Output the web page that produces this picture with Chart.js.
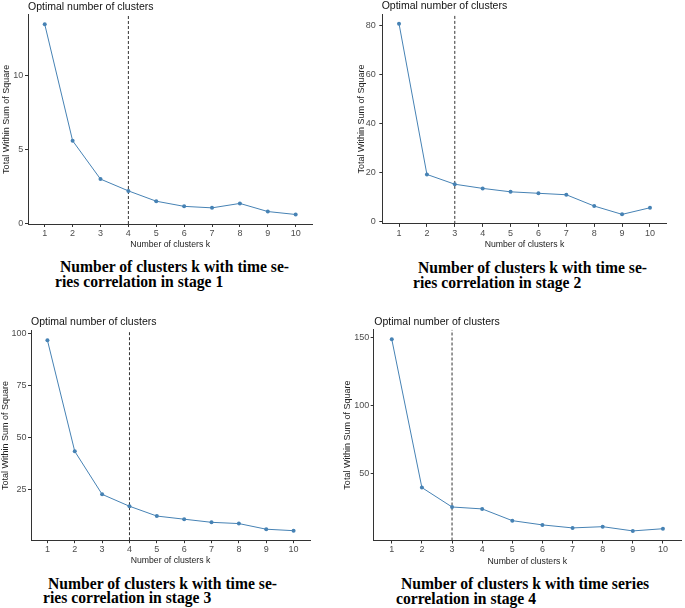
<!DOCTYPE html>
<html>
<head>
<meta charset="utf-8">
<script src="https://cdn.jsdelivr.net/npm/chart.js@4/dist/chart.umd.min.js"></script>
<style>
  body { margin: 0; background: #fff; width: 685px; height: 608px; position: relative; overflow: hidden; }
  canvas { position: absolute; }
  .title { position: absolute; font-family: 'Liberation Sans', Arial, sans-serif; font-size: 10.5px; line-height: 12px; color: #111; white-space: nowrap; }
  .cap { position: absolute; font-family: 'Liberation Serif', 'Times New Roman', serif; font-weight: bold; font-size: 17px; line-height: 14.5px; color: #000; white-space: nowrap; transform: scaleX(0.92); transform-origin: left center; }
</style>
</head>
<body>
<canvas id="c1" width="340" height="255" style="left:0;top:0"></canvas>
<canvas id="c2" width="345" height="255" style="left:340px;top:0"></canvas>
<canvas id="c3" width="340" height="270" style="left:0;top:300px"></canvas>
<canvas id="c4" width="345" height="270" style="left:340px;top:300px"></canvas>

<div class="title" style="left:28px;top:0px">Optimal number of clusters</div>
<div class="title" style="left:381.7px;top:-1px">Optimal number of clusters</div>
<div class="title" style="left:31px;top:314.7px">Optimal number of clusters</div>
<div class="title" style="left:374.3px;top:314.7px">Optimal number of clusters</div>

<div class="cap" style="left:60px;top:260px">Number of clusters k with time se-</div>
<div class="cap" style="left:55px;top:274.5px">ries correlation in stage 1</div>
<div class="cap" style="left:417.7px;top:261px">Number of clusters k with time se-</div>
<div class="cap" style="left:412.7px;top:275.5px">ries correlation in stage 2</div>
<div class="cap" style="left:47.7px;top:576.5px">Number of clusters k with time se-</div>
<div class="cap" style="left:42.7px;top:591px">ries correlation in stage 3</div>
<div class="cap" style="left:401px;top:576.5px">Number of clusters k with time series</div>
<div class="cap" style="left:396px;top:591.5px">correlation in stage 4</div>

<script>
// number of clusters k
const ks = [1, 2, 3, 4, 5, 6, 7, 8, 9, 10];

// total within sum of square, one list per stage
const wss1 = [13.5, 5.6, 3.0, 2.2, 1.5, 1.15, 1.05, 1.35, 0.8, 0.6];
const wss2 = [80.8, 19.3, 15.3, 13.6, 12.2, 11.6, 11.0, 6.4, 3.0, 5.7];
const wss3 = [96.7, 43.5, 22.9, 17.2, 12.5, 11.0, 9.5, 8.9, 6.2, 5.5];
const wss4 = [148.5, 40.0, 25.8, 24.4, 15.8, 12.7, 10.5, 11.4, 8.3, 9.9];

// optimal k (dashed line)
const bestK = [4, 3, 4, 3];

// y tick labels
const yTicks1 = [0, 5, 10];
const yTicks2 = [0, 20, 40, 60, 80];
const yTicks3 = [25, 50, 75, 100];
const yTicks4 = [50, 100, 150];

Chart.defaults.font.family = "'Liberation Sans', Arial, sans-serif";
Chart.defaults.color = '#4d4d4d';

function plotElbow(id, values, k, yTicks, box) {
  // ggplot style expansion: 5% on y, 0.6 on discrete x
  const lo = Math.min(...values), hi = Math.max(...values);
  const yMin = lo - (hi - lo) * 0.05;
  const yMax = hi + (hi - lo) * 0.05;
  const cv = document.getElementById(id);
  const W = cv.width, H = cv.height;

  new Chart(cv, {
    type: 'line',
    data: {
      datasets: [{
        data: ks.map((x, i) => ({x: x, y: values[i]})),
        borderColor: '#4682b4',
        backgroundColor: '#4682b4',
        borderWidth: 1,
        pointRadius: 2,
        pointBorderWidth: 0,
        tension: 0
      }, {
        data: [{x: k, y: yMin}, {x: k, y: yMax}],
        borderColor: '#333',
        borderWidth: 1,
        borderDash: [3, 2],
        pointRadius: 0
      }]
    },
    options: {
      responsive: false,
      animation: false,
      layout: { padding: { left: 0, top: box.T, right: W - box.R, bottom: 0 } },
      plugins: { legend: { display: false }, tooltip: { enabled: false } },
      scales: {
        x: {
          type: 'linear',
          min: 0.4,
          max: 10.6,
          afterBuildTicks: s => { s.ticks = ks.map(v => ({value: v})); },
          afterFit: s => { s.height = H - box.B; },
          grid: { drawOnChartArea: false, drawTicks: true, tickLength: 3, color: '#333' },
          border: { display: true, color: '#333', width: 1 },
          ticks: { font: { size: 9 }, padding: box.xp, maxRotation: 0, autoSkip: false },
          title: { display: true, text: 'Number of clusters k', color: '#222', font: { size: 8.7 }, padding: { top: 0, bottom: box.xt } }
        },
        y: {
          type: 'linear',
          min: yMin,
          max: yMax,
          afterBuildTicks: s => { s.ticks = yTicks.map(v => ({value: v})); },
          afterFit: s => { s.width = box.L; },
          grid: { drawOnChartArea: false, drawTicks: true, tickLength: 3, color: '#333' },
          border: { display: true, color: '#333', width: 1 },
          ticks: { font: { size: 9 }, padding: box.yp },
          title: { display: true, text: 'Total Within Sum of Square', color: '#222', font: { size: 9 }, padding: { top: box.yt, bottom: 0 } }
        }
      }
    }
  });
}

plotElbow('c1', wss1, bestK[0], yTicks1, {L: 28, R: 312.4, T: 14.7, B: 224, xp: 1, xt: 4.8, yp: 1.7, yt: 1.3});
plotElbow('c2', wss2, bestK[1], yTicks2, {L: 42.3, R: 326.7, T: 14.2, B: 223.9, xp: 1, xt: 4.8, yp: 3.6, yt: 16.3});
plotElbow('c3', wss3, bestK[2], yTicks3, {L: 31, R: 310, T: 30.7, B: 240.2, xp: 0.7, xt: 3.8, yp: 1.5, yt: 0});
plotElbow('c4', wss4, bestK[3], yTicks4, {L: 33.7, R: 344.6, T: 29.7, B: 240.5, xp: 0.7, xt: 3.2, yp: 1.5, yt: 1.9});
</script>
</body>
</html>
